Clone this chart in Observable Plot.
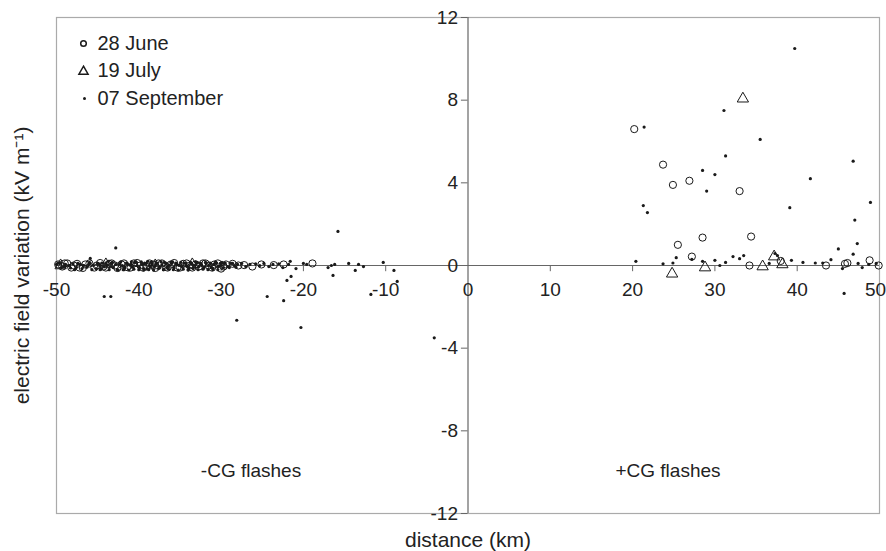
<!DOCTYPE html>
<html>
<head>
<meta charset="utf-8">
<script src="https://cdn.jsdelivr.net/npm/d3@7"></script>
<script src="https://cdn.jsdelivr.net/npm/@observablehq/plot@0.6"></script>
<style>
  html, body { margin: 0; padding: 0; background: #fff; }
  #chart { width: 886px; height: 551px; }
</style>
</head>
<body>
<div id="chart"></div>
<script>
// ---- tick labels ----
const xTicks = [-50, -40, -30, -20, -10, 0, 10, 20, 30, 40, 50];
const yTicks = [-12, -8, -4, 0, 4, 8, 12];

// ---- series names ----
const seriesNames = ["28 June", "19 July", "07 September"];

// ---- 28 June (circles) ----
const juneX = [-49.8, -49.3, -48.7, -47.9, -47.2, -46.5, -45.1, -44.3, -43.6, -42.9, -42.1, -41.4, -40.6, -39.8, -39.1, -38.3, -37.6, -36.8, -36.1, -35.3, -34.6, -33.8, -33.1, -32.7, -32.2, -31.5, -30.8, -30.0, -29.4, -28.6, -27.9, -27.2, -26.2, -25.1, -23.6, -22.4, -18.9,
  -49.0, -48.2, -47.5, -46.8, -46.0, -45.4, -44.7, -44.0, -43.3, -42.6, -41.8, -41.0, -40.2, -39.5, -38.7, -38.0, -37.2, -36.5, -35.7, -35.0, -34.2, -33.5, -31.9, -31.1, -30.4, -29.7,
  20.2, 23.7, 24.9, 25.5, 26.9, 27.2, 28.5, 33.0, 34.4, 34.2, 38.0, 43.5, 45.8, 46.1, 48.8, 49.9];
const juneY = [0.05, -0.05, 0.1, 0.0, -0.1, 0.05, 0.0, -0.05, 0.08, 0.0, 0.05, -0.08, 0.1, 0.0, -0.05, 0.05, 0.1, 0.0, 0.05, -0.1, 0.08, 0.0, 0.05, -0.05, 0.1, 0.0, 0.05, -0.15, 0.05, 0.08, 0.0, 0.02, -0.05, 0.05, 0.02, 0.05, 0.1,
  0.1, -0.1, 0.08, -0.12, 0.1, -0.1, 0.12, -0.1, 0.1, -0.12, 0.1, -0.1, 0.12, -0.1, 0.1, -0.12, 0.1, -0.1, 0.12, -0.1, 0.1, -0.1, 0.1, -0.1, 0.1, -0.05,
  6.6, 4.88, 3.9, 1.0, 4.1, 0.43, 1.35, 3.6, 1.4, 0.0, 0.22, 0.0, 0.08, 0.12, 0.25, 0.0];

// ---- 19 July (triangles) ----
const julyX = [-49.5, -44.0, -38.0, -33.5, 24.8, 28.8, 33.4, 35.8, 37.2, 38.2];
const julyY = [0.0, 0.05, 0.0, 0.05, -0.4, -0.1, 8.07, -0.05, 0.43, 0.05];

// ---- 07 September (dots) ----
const sepX = [
  -50.0, -49.6, -49.1, -48.5, -48.0, -47.6, -47.1, -46.7, -46.3, -45.9, -45.5, -45.2, -44.8, -44.5, -44.2, -43.9, -43.4, -43.1, -42.8, -42.6, -42.3, -42.0, -41.7, -41.4, -41.1, -40.8, -40.5, -40.2, -39.9, -39.6, -39.3, -39.0, -38.7, -38.4, -38.1, -37.8, -37.5, -37.2, -36.9, -36.6, -36.3, -36.0, -35.7, -35.4, -35.1, -34.8, -34.5, -34.2, -33.9, -33.6, -33.3, -33.0, -32.7, -32.4, -32.1, -31.8, -31.5, -31.2, -30.9, -30.6, -30.3, -30.0, -29.6, -29.2, -28.8, -28.4, -28.0, -27.5, -27.0, -26.5, -25.8, -25.3, -24.8, -24.2, -23.7, -23.0, -22.5, -21.8, -21.6, -20.9, -20.0, -19.6,
  -49.8, -49.4, -48.9, -48.3, -47.4, -46.9, -46.1, -45.7, -45.0, -44.6, -44.0, -43.6, -43.2, -42.5, -42.2, -41.8, -41.5, -41.2, -40.9, -40.6, -40.3, -40.0, -39.7, -39.4, -39.1, -38.8, -38.5, -38.2, -37.9, -37.6, -37.3, -37.0, -36.7, -36.4, -36.1, -35.8, -35.5, -35.2, -34.9, -34.6, -34.3, -34.0, -33.7, -33.4, -33.1, -32.8, -32.5, -32.2, -31.9, -31.6, -31.3, -31.0, -30.7, -30.4, -30.1, -29.8, -29.5, -29.0, -28.6, -28.2,
  -45.9, -42.8, -44.2, -43.4, -28.1, -24.4, -22.4, -22.0, -21.5, -20.3, -17.0, -16.6, -16.2, -16.4, -15.8, -14.5, -13.7, -13.3, -12.7, -11.8, -10.3, -9.0, -8.6, -4.1,
  -47.8, -46.0, -44.7, -43.7, -41.9, -40.9, -39.4, -38.9, -37.0, -35.9, -34.0, -32.9, -31.0, -29.9,
  20.4, 21.4, 21.3, 21.8, 23.7, 24.9, 25.3, 27.2, 28.5, 28.5, 29.0, 30.0, 30.0, 30.6, 31.1, 31.3, 31.3, 32.2, 33.0, 33.5, 35.5, 36.6, 37.3, 37.6, 39.1, 39.3, 39.7, 40.7, 41.6, 42.2, 43.1, 44.1, 45.0, 45.5, 45.7, 46.8, 46.8, 47.0, 47.3, 47.4, 47.9, 48.7, 48.9, 49.6
];
const sepY = [
  0.05, 0.1, -0.05, 0.0, 0.08, -0.1, 0.05, 0.0, -0.08, 0.1, 0.0, -0.15, 0.05, 0.12, -0.05, 0.0, 0.1, -0.1, 0.05, -0.2, 0.08, 0.0, -0.12, 0.1, 0.02, -0.08, 0.15, 0.0, -0.1, 0.05, 0.12, -0.15, 0.0, 0.08, -0.05, 0.1, -0.1, 0.03, 0.15, -0.08, 0.0, 0.1, -0.12, 0.05, 0.0, -0.05, 0.12, 0.0, -0.1, 0.08, 0.0, 0.1, -0.05, 0.05, -0.12, 0.1, 0.0, -0.08, 0.05, 0.1, -0.05, 0.0, 0.08, -0.05, 0.1, 0.0, 0.05, 0.1, -0.05, 0.05, 0.08, 0.0, 0.1, -0.05, 0.05, 0.08, -0.1, 0.05, 0.2, -0.15, 0.1, 0.05,
  0.12, -0.1, 0.05, -0.12, 0.1, -0.15, 0.05, -0.2, 0.1, -0.18, 0.12, -0.2, 0.15, -0.22, 0.18, -0.2, 0.12, -0.22, 0.05, -0.18, 0.15, -0.2, 0.18, -0.15, 0.1, -0.2, 0.15, -0.22, 0.12, -0.15, 0.18, -0.2, 0.1, -0.18, 0.15, -0.2, 0.12, -0.22, 0.15, -0.18, 0.1, -0.2, 0.15, -0.15, 0.18, -0.2, 0.12, -0.18, 0.15, -0.2, 0.12, -0.15, 0.15, -0.2, 0.1, -0.12, 0.12, -0.1, 0.1, -0.08,
  0.34, 0.85, -1.5, -1.5, -2.65, -1.5, -1.7, -0.72, -0.53, -3.0, -0.1, 0.0, 0.05, -0.48, 1.65, 0.1, -0.24, 0.05, -0.05, -1.4, 0.15, -0.24, -0.77, -3.5,
  -0.2, 0.15, -0.2, 0.2, -0.2, 0.18, -0.22, 0.2, -0.2, 0.18, -0.22, 0.15, -0.2, 0.15,
  0.2, 6.7, 2.9, 2.56, 0.08, 0.12, 0.38, 0.3, 4.6, 0.2, 3.6, 4.4, 0.25, 0.0, 7.5, 5.3, 0.15, 0.43, 0.33, 0.48, 6.1, 0.1, 0.58, 0.48, 2.8, 0.25, 10.5, 0.15, 4.2, 0.12, 0.12, 0.28, 0.8, -0.15, -1.35, 5.05, 0.55, 2.2, 1.06, 0.1, -0.1, 0.05, 3.05, 0.1
];

const june = juneX.map((x, i) => ({x, y: juneY[i]}));
const july = julyX.map((x, i) => ({x, y: julyY[i]}));
const sep = sepX.map((x, i) => ({x, y: sepY[i]}));

const ink = "#1a1a1a";
const axisInk = "#666";
const txt = "#222";

const chart = Plot.plot({
  width: 886,
  height: 551,
  marginLeft: 56,
  marginRight: 7,
  marginTop: 17,
  marginBottom: 38,
  x: {domain: [-50, 50], axis: null},
  y: {domain: [-12, 12], axis: null},
  style: {fontFamily: "'Liberation Sans', Arial, sans-serif", fontSize: "19px", color: txt, background: "#fff"},
  marks: [
    Plot.frame({stroke: "#aaa", strokeWidth: 1.2}),
    // axis lines
    Plot.ruleY([0], {stroke: axisInk, strokeWidth: 1.2}),
    Plot.ruleX([0], {stroke: axisInk, strokeWidth: 1.2}),
    // x ticks (downward)
    Plot.ruleX(xTicks.filter(d => d !== 0 && Math.abs(d) !== 50), {x: d => d, y1: 0, y2: -0.3, stroke: axisInk}),
    Plot.text(xTicks.filter(d => d !== 50), {x: d => d, y: 0, dy: 24, text: d => String(d), fill: txt, fontSize: 19}),
    Plot.text(xTicks.filter(d => d === 50), {x: d => d, y: 0, dy: 24, dx: -4, text: d => String(d), fill: txt, fontSize: 19}),
    // y ticks (leftward)
    Plot.ruleY(yTicks, {y: d => d, x1: -0.8, x2: 0, stroke: axisInk}),
    Plot.text(yTicks, {x: 0, y: d => d, dx: -10, textAnchor: "end", text: d => String(d), fill: txt, fontSize: 19}),
    // data
    Plot.dot(june, {x: "x", y: "y", r: 3.6, stroke: ink, strokeWidth: 1, fill: "none"}),
    Plot.dot(july, {x: "x", y: "y", symbol: "triangle", r: 4.2, stroke: ink, strokeWidth: 1, fill: "none"}),
    Plot.dot(sep, {x: "x", y: "y", r: 1.6, fill: ink, stroke: "none"}),
    // panel labels
    Plot.text(["-CG flashes"], {frameAnchor: "bottom", dx: -217, dy: -43, lineAnchor: "middle", textAnchor: "middle", fill: txt, fontSize: 19}),
    Plot.text(["+CG flashes"], {frameAnchor: "bottom", dx: 200, dy: -43, lineAnchor: "middle", textAnchor: "middle", fill: txt, fontSize: 19}),
    // legend
    Plot.dot([seriesNames[0]], {frameAnchor: "top-left", dx: 27, dy: 26, r: 2.8, stroke: ink, fill: "none"}),
    Plot.dot([seriesNames[1]], {frameAnchor: "top-left", dx: 27, dy: 54, symbol: "triangle", r: 3.4, stroke: ink, fill: "none"}),
    Plot.dot([seriesNames[2]], {frameAnchor: "top-left", dx: 28, dy: 81, r: 1.5, fill: ink, stroke: "none"}),
    Plot.text([seriesNames[0]], {frameAnchor: "top-left", dx: 41, dy: 26, textAnchor: "start", lineAnchor: "middle", text: d => d, fill: txt, fontSize: 20}),
    Plot.text([seriesNames[1]], {frameAnchor: "top-left", dx: 41, dy: 53, textAnchor: "start", lineAnchor: "middle", text: d => d, fill: txt, fontSize: 20}),
    Plot.text([seriesNames[2]], {frameAnchor: "top-left", dx: 41, dy: 81, textAnchor: "start", lineAnchor: "middle", text: d => d, fill: txt, fontSize: 20}),
    // axis titles
    Plot.text(["distance (km)"], {frameAnchor: "bottom", dy: 27, lineAnchor: "middle", textAnchor: "middle", fill: txt, fontSize: 21}),
    Plot.text(["electric field variation (kV m⁻¹)"], {frameAnchor: "left", dx: -34, rotate: -90, lineAnchor: "middle", textAnchor: "middle", fill: txt, fontSize: 21})
  ]
});
document.getElementById("chart").appendChild(chart);
</script>
</body>
</html>
